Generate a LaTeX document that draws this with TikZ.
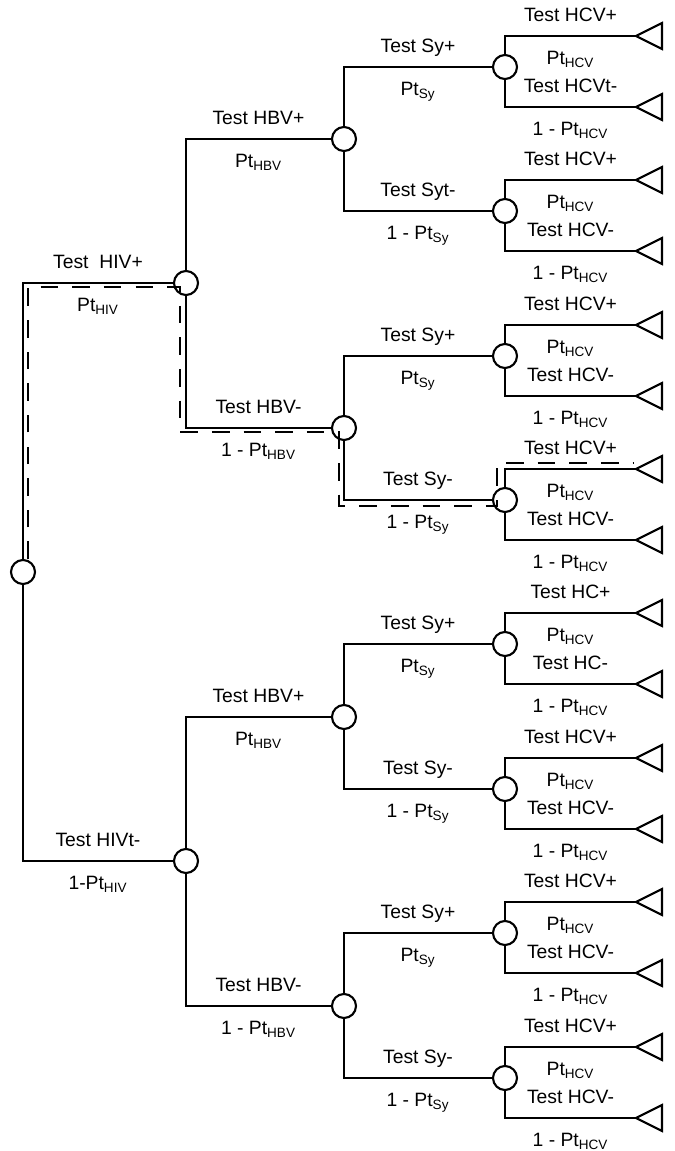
\documentclass[tikz,border=0pt]{standalone}
\usepackage{fontspec}
\setmainfont{Liberation Sans}
\usetikzlibrary{positioning,calc}

\begin{document}
\begin{tikzpicture}[x=0.02cm,y=-0.02cm,
      chance/.style={draw,circle,minimum size=0.48cm,inner sep=0pt,line width=1.2pt},
      br/.style={line width=1.2pt},
      up/.style={above=5pt,inner sep=0pt,text height=8pt,text depth=2.5pt,font=\fontsize{11}{13}\selectfont},
      dn/.style={below=7.5pt,inner sep=0pt,text height=8pt,text depth=2.5pt,font=\fontsize{11}{13}\selectfont},
      hl/.style={line width=1.2pt,dash pattern=on 10pt off 8pt}]
    \useasboundingbox (0,0) rectangle (674,1151);
    \node[chance](r0) at (23,572) {};
    \node[chance](v1) at (186,283) {};
    \node[chance](v2) at (186,861) {};
    \node[chance](b1) at (344,139) {};
    \node[chance](b2) at (344,428) {};
    \node[chance](b3) at (344,717) {};
    \node[chance](b4) at (344,1006) {};
    \node[chance](s1) at (505,67) {};
    \node[chance](s2) at (505,211) {};
    \node[chance](s3) at (505,356) {};
    \node[chance](s4) at (505,500) {};
    \node[chance](s5) at (505,644) {};
    \node[chance](s6) at (505,789) {};
    \node[chance](s7) at (505,933) {};
    \node[chance](s8) at (505,1078) {};
    \coordinate (c1) at (636,36);
    \coordinate (c2) at (636,107);
    \coordinate (c3) at (636,180);
    \coordinate (c4) at (636,251);
    \coordinate (c5) at (636,325);
    \coordinate (c6) at (636,396);
    \coordinate (c7) at (636,469);
    \coordinate (c8) at (636,540);
    \coordinate (c9) at (636,613);
    \coordinate (c10) at (636,684);
    \coordinate (c11) at (636,758);
    \coordinate (c12) at (636,829);
    \coordinate (c13) at (636,902);
    \coordinate (c14) at (636,973);
    \coordinate (c15) at (636,1047);
    \coordinate (c16) at (636,1118);
    % HIV
    \draw[br](r0) |- (v1) node[up,pos=0.75]{Test\ \ HIV+} node[dn,pos=0.75]{Pt\textsubscript{HIV}};
    \draw[br](r0) |- (v2) node[up,pos=0.75]{Test HIVt-} node[dn,pos=0.75]{1-Pt\textsubscript{HIV}};
    % HBV
    \draw[br](v1) |- (b1) node[up,pos=0.75]{Test HBV+} node[dn,pos=0.75]{Pt\textsubscript{HBV}};
    \draw[br](v1) |- (b2) node[up,pos=0.75]{Test HBV-} node[dn,pos=0.75]{1 - Pt\textsubscript{HBV}};
    \draw[br](v2) |- (b3) node[up,pos=0.75]{Test HBV+} node[dn,pos=0.75]{Pt\textsubscript{HBV}};
    \draw[br](v2) |- (b4) node[up,pos=0.75]{Test HBV-} node[dn,pos=0.75]{1 - Pt\textsubscript{HBV}};
    % Sy
    \draw[br](b1) |- (s1) node[up,pos=0.75]{Test Sy+} node[dn,pos=0.75]{Pt\textsubscript{Sy}};
    \draw[br](b1) |- (s2) node[up,pos=0.75]{Test Syt-} node[dn,pos=0.75]{1 - Pt\textsubscript{Sy}};
    \draw[br](b2) |- (s3) node[up,pos=0.75]{Test Sy+} node[dn,pos=0.75]{Pt\textsubscript{Sy}};
    \draw[br](b2) |- (s4) node[up,pos=0.75]{Test Sy-} node[dn,pos=0.75]{1 - Pt\textsubscript{Sy}};
    \draw[br](b3) |- (s5) node[up,pos=0.75]{Test Sy+} node[dn,pos=0.75]{Pt\textsubscript{Sy}};
    \draw[br](b3) |- (s6) node[up,pos=0.75]{Test Sy-} node[dn,pos=0.75]{1 - Pt\textsubscript{Sy}};
    \draw[br](b4) |- (s7) node[up,pos=0.75]{Test Sy+} node[dn,pos=0.75]{Pt\textsubscript{Sy}};
    \draw[br](b4) |- (s8) node[up,pos=0.75]{Test Sy-} node[dn,pos=0.75]{1 - Pt\textsubscript{Sy}};
    % HCV
    \draw[br](s1) |- (c1) node[up,pos=0.75]{Test HCV+} node[dn,pos=0.75]{Pt\textsubscript{HCV}};
    \draw[br](s1) |- (c2) node[up,pos=0.75]{Test HCVt-} node[dn,pos=0.75]{1 - Pt\textsubscript{HCV}};
    \draw[br](s2) |- (c3) node[up,pos=0.75]{Test HCV+} node[dn,pos=0.75]{Pt\textsubscript{HCV}};
    \draw[br](s2) |- (c4) node[up,pos=0.75]{Test HCV-} node[dn,pos=0.75]{1 - Pt\textsubscript{HCV}};
    \draw[br](s3) |- (c5) node[up,pos=0.75]{Test HCV+} node[dn,pos=0.75]{Pt\textsubscript{HCV}};
    \draw[br](s3) |- (c6) node[up,pos=0.75]{Test HCV-} node[dn,pos=0.75]{1 - Pt\textsubscript{HCV}};
    \draw[br](s4) |- (c7) node[up,pos=0.75]{Test HCV+} node[dn,pos=0.75]{Pt\textsubscript{HCV}};
    \draw[br](s4) |- (c8) node[up,pos=0.75]{Test HCV-} node[dn,pos=0.75]{1 - Pt\textsubscript{HCV}};
    \draw[br](s5) |- (c9) node[up,pos=0.75]{Test HC+} node[dn,pos=0.75]{Pt\textsubscript{HCV}};
    \draw[br](s5) |- (c10) node[up,pos=0.75]{Test HC-} node[dn,pos=0.75]{1 - Pt\textsubscript{HCV}};
    \draw[br](s6) |- (c11) node[up,pos=0.75]{Test HCV+} node[dn,pos=0.75]{Pt\textsubscript{HCV}};
    \draw[br](s6) |- (c12) node[up,pos=0.75]{Test HCV-} node[dn,pos=0.75]{1 - Pt\textsubscript{HCV}};
    \draw[br](s7) |- (c13) node[up,pos=0.75]{Test HCV+} node[dn,pos=0.75]{Pt\textsubscript{HCV}};
    \draw[br](s7) |- (c14) node[up,pos=0.75]{Test HCV-} node[dn,pos=0.75]{1 - Pt\textsubscript{HCV}};
    \draw[br](s8) |- (c15) node[up,pos=0.75]{Test HCV+} node[dn,pos=0.75]{Pt\textsubscript{HCV}};
    \draw[br](s8) |- (c16) node[up,pos=0.75]{Test HCV-} node[dn,pos=0.75]{1 - Pt\textsubscript{HCV}};
    % end triangles
    \draw[br](c1) -- ++(26,-13) -- ++(0,26) -- cycle;
    \draw[br](c2) -- ++(26,-13) -- ++(0,26) -- cycle;
    \draw[br](c3) -- ++(26,-13) -- ++(0,26) -- cycle;
    \draw[br](c4) -- ++(26,-13) -- ++(0,26) -- cycle;
    \draw[br](c5) -- ++(26,-13) -- ++(0,26) -- cycle;
    \draw[br](c6) -- ++(26,-13) -- ++(0,26) -- cycle;
    \draw[br](c7) -- ++(26,-13) -- ++(0,26) -- cycle;
    \draw[br](c8) -- ++(26,-13) -- ++(0,26) -- cycle;
    \draw[br](c9) -- ++(26,-13) -- ++(0,26) -- cycle;
    \draw[br](c10) -- ++(26,-13) -- ++(0,26) -- cycle;
    \draw[br](c11) -- ++(26,-13) -- ++(0,26) -- cycle;
    \draw[br](c12) -- ++(26,-13) -- ++(0,26) -- cycle;
    \draw[br](c13) -- ++(26,-13) -- ++(0,26) -- cycle;
    \draw[br](c14) -- ++(26,-13) -- ++(0,26) -- cycle;
    \draw[br](c15) -- ++(26,-13) -- ++(0,26) -- cycle;
    \draw[br](c16) -- ++(26,-13) -- ++(0,26) -- cycle;
    % highlighted path
    \draw[hl]($(r0.north)+(5,0)$) -- ($(r0|-v1)+(5,4)$) -- ($(v1)+(-6,4)$) -- ($(v1|-b2)+(-6,4)$)
      -- ($(b2)+(-5,4)$) -- ($(b2|-s4)+(-5,6)$) -- ($(s4)+(-8,6)$) -- ($(s4|-c7)+(-8,-6)$) -- ($(c7)+(-3,-6)$);
  \end{tikzpicture}
\end{document}
